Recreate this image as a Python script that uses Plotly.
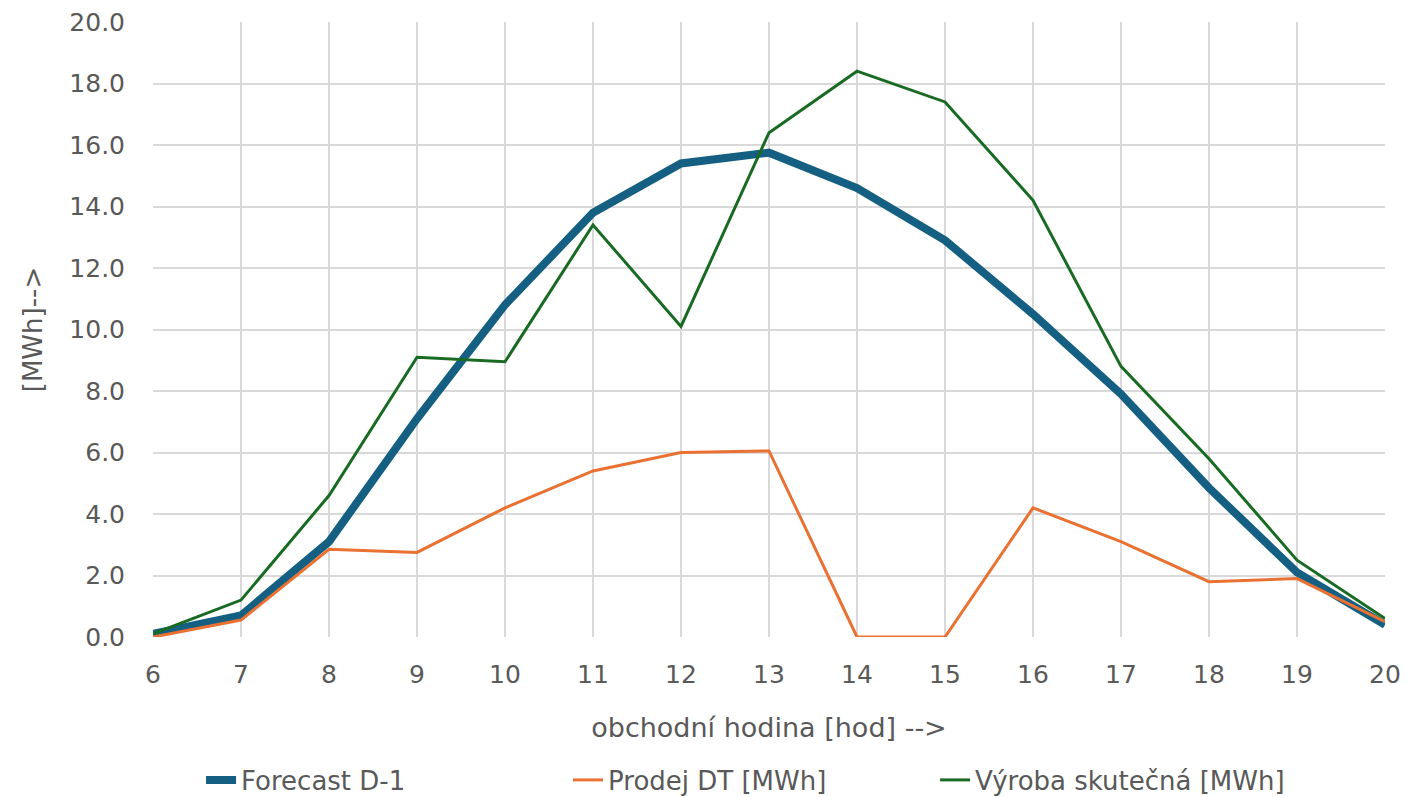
import plotly.graph_objects as go

hours = [6, 7, 8, 9, 10, 11, 12, 13, 14, 15, 16, 17, 18, 19, 20]
forecast_d1 = [0.1, 0.7, 3.1, 7.1, 10.8, 13.8, 15.4, 15.75, 14.6, 12.9, 10.5, 7.9, 4.85, 2.1, 0.4]
prodej_dt = [0.0, 0.55, 2.85, 2.75, 4.2, 5.4, 6.0, 6.05, 0.0, 0.0, 4.2, 3.1, 1.8, 1.9, 0.5]
vyroba = [0.1, 1.2, 4.6, 9.1, 8.95, 13.4, 10.1, 16.4, 18.4, 17.4, 14.2, 8.8, 5.8, 2.5, 0.6]

names = ["Forecast D-1", "Prodej DT [MWh]", "Výroba skutečná [MWh]"]
y_ticks = [0, 2, 4, 6, 8, 10, 12, 14, 16, 18, 20]

FONT = "DejaVu Sans"
GRAY = "#595959"

fig = go.Figure()
fig.add_trace(go.Scatter(x=hours, y=forecast_d1, name=names[0], mode="lines",
                         line=dict(color="#156082", width=8)))
fig.add_trace(go.Scatter(x=hours, y=prodej_dt, name=names[1], mode="lines",
                         line=dict(color="#E97132", width=3)))
fig.add_trace(go.Scatter(x=hours, y=vyroba, name=names[2], mode="lines",
                         line=dict(color="#196B24", width=3)))

fig.update_layout(
    width=1407, height=797,
    margin=dict(l=153, r=22, t=22, b=160),
    paper_bgcolor="white", plot_bgcolor="white",
    font=dict(family=FONT, color=GRAY, size=25),
    showlegend=True,
    legend=dict(orientation="h", x=0.039, xanchor="left",
                yref="container", y=(797 - 780) / 797, yanchor="middle",
                font=dict(size=26, color=GRAY, family=FONT),
                entrywidth=322, entrywidthmode="pixels", traceorder="normal"),
)
fig.update_xaxes(range=[6, 20], tickmode="array", tickvals=hours,
                 ticktext=[str(h) for h in hours],
                 showgrid=True, gridcolor="#d9d9d9", gridwidth=2,
                 zeroline=False, showline=False, ticks="", ticklabelstandoff=20,
                 automargin=False,
                 tickfont=dict(size=25, color=GRAY),
                 title=dict(text="obchodní hodina [hod] -->", font=dict(size=27, color=GRAY), standoff=30))
fig.update_yaxes(range=[0, 20], tickmode="array", tickvals=y_ticks,
                 ticktext=[f"{v:.1f}" for v in y_ticks],
                 showgrid=True, gridcolor="#d9d9d9", gridwidth=2,
                 zeroline=False, showline=False, ticks="", ticklabelstandoff=27,
                 automargin=False,
                 tickfont=dict(size=25, color=GRAY),
                 title=dict(text="[MWh]-->", font=dict(size=26, color=GRAY), standoff=19))

fig.write_html("out.html", config={"displayModeBar": False},
               post_script="document.body.style.margin='0';")
